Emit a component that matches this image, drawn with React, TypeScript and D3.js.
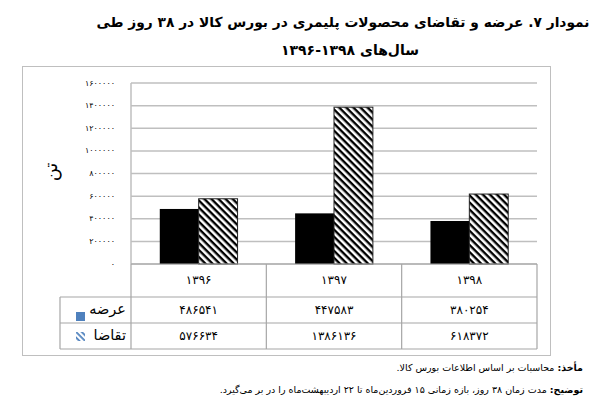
import React from "react";
import * as d3 from "d3";

const years = ["1396", "1397", "1398"];
const supply = [486541, 447583, 380254];
const demand = [576634, 1386136, 618372];
const yTicks = [0, 200000, 400000, 600000, 800000, 1000000, 1200000, 1400000, 1600000];
const seriesNames = ["عرضه", "تقاضا"];

const fa = (v: number | string) =>
  String(v).replace(/[0-9]/g, (d) => "۰۱۲۳۴۵۶۷۸۹"[+d]);

const FONT = "'DejaVu Sans', sans-serif";

export default function App() {
  const W = 595, H = 411;
  const plotLeft = 131, plotRight = 537, plotTop = 83, plotBottom = 264;
  const legendLeft = 60;
  const rowY = [264, 297, 323, 349];

  const x = d3.scaleBand<string>().domain(years).range([plotLeft, plotRight]).paddingInner(0).paddingOuter(0);
  const inner = d3.scaleBand<string>().domain(["s", "d"]).range([0, x.bandwidth()]).paddingInner(0).paddingOuter(0.74);
  const y = d3.scaleLinear().domain([0, 1600000]).range([plotBottom, plotTop]);

  const grid = "#BFBFBF";
  const tbl = "#A6A6A6";

  return (
    <div style={{ position: "absolute", left: 0, top: 0 }}>
      <svg width={W} height={H} style={{ display: "block", background: "#fff" }} fontFamily={FONT}>
        <defs>
          <pattern id="hatch" patternUnits="userSpaceOnUse" width="5" height="5" patternTransform="rotate(45)">
            <rect width="5" height="5" fill="#fff" />
            <rect x="0" y="0" width="5" height="2.4" fill="#000" />
          </pattern>
          <pattern id="hatchBlue" patternUnits="userSpaceOnUse" width="4" height="4" patternTransform="rotate(45)">
            <rect width="4" height="4" fill="#fff" />
            <rect x="0" y="0" width="4" height="1.8" fill="#4F81BD" />
          </pattern>
        </defs>

        {/* Title */}
        <text x={343} y={27} textAnchor="middle" direction="rtl" fontSize={13.8} fontWeight="bold">
          نمودار ۷. عرضه و تقاضای محصولات پلیمری در بورس کالا در ۳۸ روز طی
        </text>
        <text x={350} y={55} textAnchor="middle" direction="rtl" fontSize={14} fontWeight="bold">
          {"سال‌های " + fa("1398") + "-" + fa("1396")}
        </text>

        {/* Outer frame */}
        <rect x={22.5} y={66.5} width={528} height={289} fill="none" stroke={grid} strokeWidth={1} />

        {/* Gridlines */}
        {yTicks.map((t) => (
          <line key={t} x1={plotLeft} x2={plotRight} y1={y(t)} y2={y(t)} stroke={grid} strokeWidth={1.5} />
        ))}
        <line x1={plotLeft} x2={plotLeft} y1={plotTop} y2={plotBottom} stroke={grid} strokeWidth={1.5} />

        {/* Tick labels */}
        {yTicks.map((t) => (
          <text key={"l" + t} x={115} y={y(t)} textAnchor="end" dominantBaseline="middle" fontSize={8}>
            {fa(t)}
          </text>
        ))}

        {/* Axis title */}
        <text transform={`translate(52,172) rotate(-90)`} textAnchor="middle" dominantBaseline="middle" fontSize={18}>
          تن
        </text>

        {/* Bars */}
        {years.map((yr, i) => (
          <g key={yr}>
            <rect x={x(yr)! + inner("s")!} y={y(supply[i])} width={inner.bandwidth()} height={plotBottom - y(supply[i])} fill="#000" />
            <rect x={x(yr)! + inner("d")!} y={y(demand[i])} width={inner.bandwidth()} height={plotBottom - y(demand[i])} fill="url(#hatch)" stroke="#222" strokeWidth={1} />
          </g>
        ))}

        {/* Data table */}
        <line x1={plotLeft} x2={plotRight} y1={rowY[0]} y2={rowY[0]} stroke={tbl} strokeWidth={1.2} />
        {[1, 2, 3].map((r) => (
          <line key={r} x1={legendLeft} x2={plotRight} y1={rowY[r]} y2={rowY[r]} stroke={tbl} strokeWidth={1.2} />
        ))}
        <line x1={legendLeft} x2={legendLeft} y1={rowY[1]} y2={rowY[3]} stroke={tbl} strokeWidth={1.2} />
        {[...years.map((yr) => x(yr)!), plotRight].map((xx, k) => (
          <line key={k} x1={xx} x2={xx} y1={rowY[0]} y2={rowY[3]} stroke={tbl} strokeWidth={1.2} />
        ))}

        {years.map((yr, i) => (
          <g key={"t" + yr} fontSize={12}>
            <text x={x(yr)! + x.bandwidth() / 2} y={(rowY[0] + rowY[1]) / 2} textAnchor="middle" dominantBaseline="middle">
              {fa(yr)}
            </text>
            <text x={x(yr)! + x.bandwidth() / 2} y={(rowY[1] + rowY[2]) / 2} textAnchor="middle" dominantBaseline="middle">
              {fa(supply[i])}
            </text>
            <text x={x(yr)! + x.bandwidth() / 2} y={(rowY[2] + rowY[3]) / 2} textAnchor="middle" dominantBaseline="middle">
              {fa(demand[i])}
            </text>
          </g>
        ))}

        {/* Legend in table */}
        <rect x={76} y={312} width={9} height={9} fill="#4F81BD" />
        <text x={126} y={(rowY[1] + rowY[2]) / 2} textAnchor="end" dominantBaseline="middle" fontSize={14.5}>
          {seriesNames[0]}
        </text>
        <rect x={76} y={332} width={9} height={9} fill="url(#hatchBlue)" />
        <text x={126} y={(rowY[2] + rowY[3]) / 2} textAnchor="end" dominantBaseline="middle" fontSize={14.5}>
          {seriesNames[1]}
        </text>

        {/* Footnotes */}
        <text x={583} y={371} direction="rtl" textAnchor="start" fontSize={9.5}>
          <tspan fontWeight="bold">مأخذ:</tspan>
          <tspan> محاسبات بر اساس اطلاعات بورس کالا.</tspan>
        </text>
        <text x={583} y={393} direction="rtl" textAnchor="start" fontSize={9.5}>
          <tspan fontWeight="bold">توضیح:</tspan>
          <tspan> مدت زمان ۳۸ روز، بازه زمانی ۱۵ فروردین‌ماه تا ۲۲ اردیبهشت‌ماه را در بر می‌گیرد.</tspan>
        </text>
      </svg>
    </div>
  );
}
